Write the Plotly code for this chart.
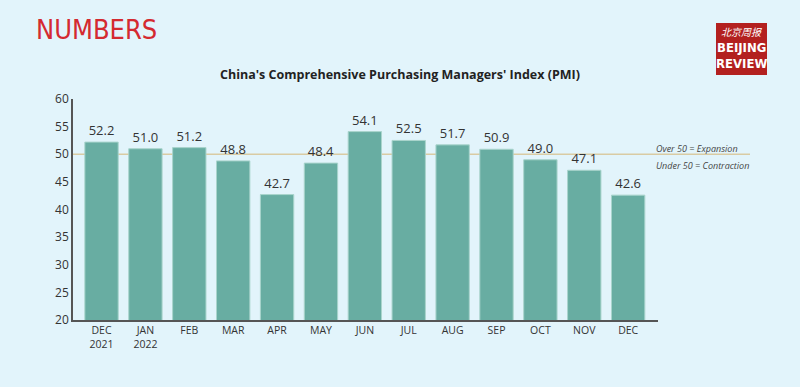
import plotly.graph_objects as go

months = ["DEC<br>2021", "JAN<br>2022", "FEB", "MAR", "APR", "MAY", "JUN", "JUL", "AUG", "SEP", "OCT", "NOV", "DEC"]
pmi = [52.2, 51.0, 51.2, 48.8, 42.7, 48.4, 54.1, 52.5, 51.7, 50.9, 49.0, 47.1, 42.6]
y_ticks = [20, 25, 30, 35, 40, 45, 50, 55, 60]
threshold = 50

bg = "#E2F4FB"
W, H = 800, 387
L, R, T, B = 73, 800 - 658, 99, 387 - 320

def px(x):
    return (x - L) / (W - L - R)
def py(y):
    return (320 - y) / (320 - 99)

fig = go.Figure()
fig.add_trace(go.Bar(
    x=list(range(len(months))), y=pmi,
    width=0.76,
    marker=dict(color="#68ADA2", line=dict(color="#A9D4CC", width=1)),
    text=[f"{v:.1f}" for v in pmi], textposition="outside",
    textfont=dict(family="Open Sans", size=13, color="#333333"),
    cliponaxis=False,
))

fig.add_shape(type="line", xref="paper", yref="y", x0=0, x1=px(750),
              y0=threshold, y1=threshold, line=dict(color="#D9CBA3", width=1.5), layer="below")

fig.add_annotation(xref="paper", yref="paper", x=px(654), y=py(148),
                   text="<i>Over 50 = Expansion</i>", showarrow=False, xanchor="left", yanchor="middle",
                   font=dict(family="Open Sans", size=9, color="#444444"))
fig.add_annotation(xref="paper", yref="paper", x=px(654), y=py(165),
                   text="<i>Under 50 = Contraction</i>", showarrow=False, xanchor="left", yanchor="middle",
                   font=dict(family="Open Sans", size=9, color="#444444"))

# Title
fig.add_annotation(xref="paper", yref="paper", x=px(400), y=py(75),
                   text="<b>China's Comprehensive Purchasing Managers' Index (PMI)</b>", showarrow=False,
                   xanchor="center", yanchor="middle",
                   font=dict(family="Open Sans", size=12.5, color="#222222"))

# NUMBERS header
fig.add_annotation(xref="paper", yref="paper", x=px(34), y=py(29),
                   text="NUMBERS", showarrow=False, xanchor="left", yanchor="middle",
                   font=dict(family="DejaVu Sans Condensed, Roboto", size=27, color="#D42A30"))

# Logo
fig.add_shape(type="rect", xref="paper", yref="paper", x0=px(716), x1=px(767), y0=py(75), y1=py(23),
              fillcolor="#B3201F", line=dict(width=0))
fig.add_annotation(xref="paper", yref="paper", x=px(741.5), y=py(31), text="<i>北京周报</i>", showarrow=False,
                   font=dict(family="Noto Sans CJK SC", size=10, color="white"), xanchor="center", yanchor="middle")
fig.add_annotation(xref="paper", yref="paper", x=px(741.5), y=py(48), text="<b>BEIJING</b>", showarrow=False,
                   font=dict(family="DejaVu Sans Condensed, Roboto", size=13, color="white"), xanchor="center", yanchor="middle")
fig.add_annotation(xref="paper", yref="paper", x=px(741.5), y=py(64), text="<b>REVIEW</b>", showarrow=False,
                   font=dict(family="DejaVu Sans Condensed, Roboto", size=13, color="white"), xanchor="center", yanchor="middle")

fig.update_layout(
    width=W, height=H,
    margin=dict(l=L, r=R, t=T, b=B),
    paper_bgcolor=bg, plot_bgcolor=bg,
    showlegend=False,
)
fig.update_xaxes(
    tickmode="array", tickvals=list(range(len(months))), ticktext=months,
    range=[-0.65, 12.68], showgrid=False, zeroline=False,
    showline=True, linecolor="#555555", linewidth=1.5, ticks="",
    tickfont=dict(family="Open Sans", size=10.5, color="#333333"),
)
fig.update_yaxes(
    range=[20, 60], tickvals=y_ticks, showgrid=False, zeroline=False,
    showline=True, linecolor="#555555", linewidth=1.5, ticks="",
    tickfont=dict(family="Open Sans", size=12, color="#333333"),
)

fig.write_html("out.html", config={"displayModeBar": False},
               post_script="document.body.style.margin='0';document.body.style.background='#E2F4FB';document.body.style.overflow='hidden';")
